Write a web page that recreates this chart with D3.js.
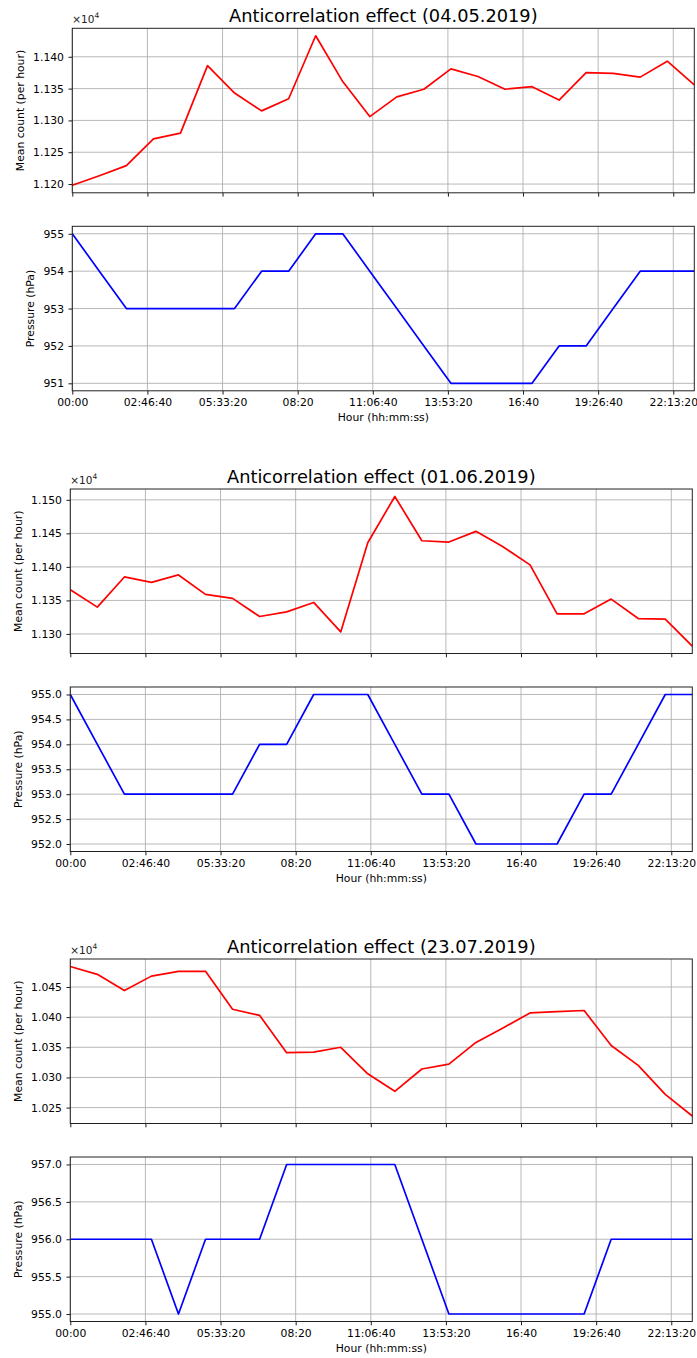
<!DOCTYPE html>
<html>
<head>
<meta charset="utf-8">
<script src="https://cdn.jsdelivr.net/npm/d3@7"></script>
<style>
  body { margin: 0; background: #fff; }
  svg { display: block; font-family: "DejaVu Sans", sans-serif; }
</style>
</head>
<body>
<div id="chart"></div>
<script>
var W = 697, H = 1358;

// hour of the day for every sample
var hours = [0, 1, 2, 3, 4, 5, 6, 7, 8, 9, 10, 11, 12, 13, 14, 15, 16, 17, 18, 19, 20, 21, 22, 23];

// 04.05.2019
var count0405 = [11198, 11213, 11229, 11271, 11280, 11386, 11343, 11315, 11334, 11433, 11361, 11306,
                 11337, 11349, 11381, 11369, 11349, 11353, 11332, 11375, 11374, 11368, 11393, 11356];
var press0405 = [955, 954, 953, 953, 953, 953, 953, 954, 954, 955, 955, 954,
                 953, 952, 951, 951, 951, 951, 952, 952, 953, 954, 954, 954];

// 01.06.2019
var count0106 = [11366, 11340, 11385, 11377, 11388, 11359, 11353, 11326, 11333, 11347, 11303, 11436,
                 11505, 11439, 11437, 11453, 11430, 11403, 11330, 11330, 11352, 11323, 11322, 11282];
var press0106 = [955, 954, 953, 953, 953, 953, 953, 954, 954, 955, 955, 955,
                 954, 953, 953, 952, 952, 952, 952, 953, 953, 954, 955, 955];

// 23.07.2019
var count2307 = [10484, 10471, 10444, 10468, 10476, 10476, 10413, 10403, 10341, 10342, 10350, 10306,
                 10277, 10314, 10322, 10358, 10382, 10407, 10409, 10411, 10353, 10320, 10272, 10236];
var press2307 = [956, 956, 956, 956, 955, 956, 956, 956, 957, 957, 957, 957,
                 957, 956, 955, 955, 955, 955, 955, 955, 956, 956, 956, 956];

// x ticks (seconds) and their labels
var xTickSec = [0, 10000, 20000, 30000, 40000, 50000, 60000, 70000, 80000];
var xTickLabels = ["00:00", "02:46:40", "05:33:20", "08:20", "11:06:40", "13:53:20", "16:40", "19:26:40", "22:13:20"];

// y ticks
var countTicks0405 = [11200, 11250, 11300, 11350, 11400];
var countTicks0106 = [11300, 11350, 11400, 11450, 11500];
var countTicks2307 = [10250, 10300, 10350, 10400, 10450];
var pressTicks0405 = [951, 952, 953, 954, 955];
var pressTicks0106 = [952, 952.5, 953, 953.5, 954, 954.5, 955];
var pressTicks2307 = [955, 955.5, 956, 956.5, 957];

var groups = [
  {title: "Anticorrelation effect (04.05.2019)", count: count0405, press: press0405,
   cTicks: countTicks0405, pTicks: pressTicks0405, pFmt: d3.format("d"), left: 72.3, top: 28.3},
  {title: "Anticorrelation effect (01.06.2019)", count: count0106, press: press0106,
   cTicks: countTicks0106, pTicks: pressTicks0106, pFmt: d3.format(".1f"), left: 70.3, top: 489},
  {title: "Anticorrelation effect (23.07.2019)", count: count2307, press: press2307,
   cTicks: countTicks2307, pTicks: pressTicks2307, pFmt: d3.format(".1f"), left: 70.3, top: 959}
];

var axW = 622, axH = 164.5, gap = 33.5;
var fs = 10.8;

var svg = d3.select("#chart").append("svg")
    .attr("width", W)
    .attr("height", H);

svg.append("rect").attr("width", W).attr("height", H).attr("fill", "#fff");

function padded(vals) {
    var ext = d3.extent(vals), r = ext[1] - ext[0];
    return [ext[0] - 0.05 * r, ext[1] + 0.05 * r];
}

function panel(g, top, vals, ticks, fmt, color, ylabel, showX) {
    var x = d3.scaleLinear().domain([0, 23 * 3600]).range([g.left, g.left + axW]);
    var y = d3.scaleLinear().domain(padded(vals)).range([top + axH, top]);
    var p = svg.append("g");

    // grid
    p.selectAll("line.gx").data(xTickSec).enter().append("line")
        .attr("x1", function(d) { return x(d); }).attr("x2", function(d) { return x(d); })
        .attr("y1", top).attr("y2", top + axH)
        .attr("stroke", "#b0b0b0").attr("stroke-width", 0.9);
    p.selectAll("line.gy").data(ticks).enter().append("line")
        .attr("x1", g.left).attr("x2", g.left + axW)
        .attr("y1", function(d) { return y(d); }).attr("y2", function(d) { return y(d); })
        .attr("stroke", "#b0b0b0").attr("stroke-width", 0.9);

    // line
    var line = d3.line()
        .x(function(d, i) { return x(hours[i] * 3600); })
        .y(function(d) { return y(d); });
    p.append("path").datum(vals)
        .attr("d", line)
        .attr("fill", "none")
        .attr("stroke", color)
        .attr("stroke-width", 1.7)
        .attr("stroke-linejoin", "round");

    // axes
    var xAxis = d3.axisBottom(x).tickValues(xTickSec).tickSizeOuter(0).tickSize(3.8).tickPadding(3.8)
        .tickFormat(function(d, i) { return showX ? xTickLabels[i] : ""; });
    var xg = p.append("g").attr("transform", "translate(0," + (top + axH) + ")").call(xAxis);
    var yAxis = d3.axisLeft(y).tickValues(ticks).tickSizeOuter(0).tickSize(3.8).tickPadding(4.5)
        .tickFormat(fmt);
    var yg = p.append("g").attr("transform", "translate(" + g.left + ",0)").call(yAxis);
    [xg, yg].forEach(function(a) {
        a.select(".domain").remove();
        a.selectAll("line").attr("stroke", "#000").attr("stroke-width", 0.9);
        a.selectAll("text").attr("fill", "#000").style("font-size", fs + "px")
            .style("font-family", "DejaVu Sans, sans-serif");
    });

    // frame
    p.append("rect")
        .attr("x", g.left).attr("y", top).attr("width", axW).attr("height", axH)
        .attr("fill", "none").attr("stroke", "#222").attr("stroke-width", 1);

    // y label, placed left of the tick labels (bbox is in the axis group's own coordinates)
    var bb = yg.node().getBBox();
    p.append("text")
        .attr("transform", "translate(" + (g.left + bb.x - 9.3) + "," + (top + axH / 2) + ") rotate(-90)")
        .attr("text-anchor", "middle")
        .style("font-size", fs + "px")
        .text(ylabel);

    if (showX) {
        p.append("text")
            .attr("x", g.left + axW / 2).attr("y", top + axH + 30)
            .attr("text-anchor", "middle")
            .style("font-size", fs + "px")
            .text("Hour (hh:mm:ss)");
    }
    return p;
}

groups.forEach(function(g) {
    panel(g, g.top, g.count, g.cTicks, function(d) { return (d / 1e4).toFixed(3); },
        "#ff0000", "Mean count (per hour)", false);
    panel(g, g.top + axH + gap, g.press, g.pTicks, g.pFmt, "#0000ff", "Pressure (hPa)", true);

    svg.append("text")
        .attr("x", g.left + axW / 2).attr("y", g.top - 6.5)
        .attr("text-anchor", "middle")
        .style("font-size", "17.8px")
        .text(g.title);

    var off = svg.append("text")
        .attr("x", g.left).attr("y", g.top - 5.5)
        .style("font-size", "10.5px")
        .attr("fill", "#222")
        .text("×10");
    off.append("tspan").attr("dy", -4.5).style("font-size", "7.5px").text("4");
});
</script>
</body>
</html>
